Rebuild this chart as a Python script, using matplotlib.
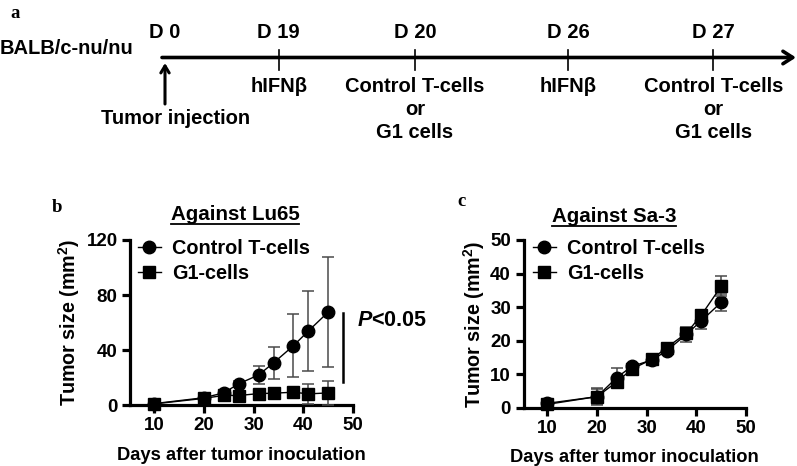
import matplotlib
matplotlib.use("Agg")
import matplotlib.pyplot as plt
from matplotlib.lines import Line2D

# ---------------- data ----------------
days = [10, 20, 24, 27, 31, 34, 38, 41, 45]

lu65_control = [1.2, 5.5, 9.0, 15.6, 22.0, 30.8, 43.3, 54.0, 67.8]
lu65_control_err = [0.5, 1.0, 1.5, 2.0, 6.5, 11.5, 23.0, 29.0, 40.0]
lu65_g1 = [1.0, 5.0, 7.2, 7.1, 8.5, 8.8, 9.5, 8.3, 9.0]
lu65_g1_err = [0.5, 1.0, 1.0, 1.2, 2.0, 3.8, 3.0, 7.0, 9.0]

sa3_control = [1.3, 3.3, 9.0, 12.3, 14.2, 16.9, 21.9, 25.9, 31.4]
sa3_control_err = [0.4, 2.5, 2.8, 0.8, 1.0, 0.8, 2.2, 2.3, 2.5]
sa3_g1 = [1.0, 3.3, 7.7, 11.5, 14.4, 17.9, 22.2, 27.6, 36.2]
sa3_g1_err = [0.4, 2.2, 1.0, 1.0, 1.0, 1.0, 1.0, 1.2, 3.0]

series_names = ["Control T-cells", "G1-cells"]
panel_titles = ["Against Lu65", "Against Sa-3"]

timeline_days = ["D 0", "D 19", "D 20", "D 26", "D 27"]
timeline_events = ["Tumor injection", "hIFN\u03b2", "Control T-cells\nor\nG1 cells",
                   "hIFN\u03b2", "Control T-cells\nor\nG1 cells"]

# ---------------- figure ----------------
W, H = 797, 466
fig = plt.figure(figsize=(W / 100, H / 100), dpi=100)
FONT = "Liberation Sans"
plt.rcParams["font.family"] = FONT
plt.rcParams["font.weight"] = "bold"
plt.rcParams["mathtext.fontset"] = "custom"
plt.rcParams["mathtext.bf"] = "Liberation Sans:bold"
plt.rcParams["mathtext.bfit"] = "Liberation Sans:bold:italic"

# overlay axes in pixel coordinates for panel a and annotations
ov = fig.add_axes([0, 0, 1, 1])
ov.set_xlim(0, W)
ov.set_ylim(H, 0)
ov.axis("off")
ov.set_zorder(10)
ov.patch.set_alpha(0)

TFS = 14.5  # timeline font size

# panel labels
for lab, (x, y) in zip("abc", [(10, 14), (52, 207), (457, 202)]):
    ov.text(x, y, lab, fontsize=13.5, fontweight="bold", family="Liberation Serif",
            ha="left", va="center")

# timeline
line_y = 57.5
ov.annotate("", xy=(796, line_y), xytext=(162, line_y),
            arrowprops=dict(arrowstyle="->,head_length=0.7,head_width=0.45",
                            lw=2.6, color="black", shrinkA=0, shrinkB=0))
ov.text(0, 48, "BALB/c-nu/nu", fontsize=TFS, fontweight="bold", ha="left", va="center")
tick_x = [165, 278.7, 415, 568.3, 713.3]
for i, (d, ev, x) in enumerate(zip(timeline_days, timeline_events, tick_x)):
    ov.text(x, 33, d, fontsize=TFS, fontweight="bold", ha="center", va="center")
    if i == 0:
        ov.annotate("", xy=(x, 63), xytext=(x, 104),
                    arrowprops=dict(arrowstyle="->,head_length=0.5,head_width=0.3",
                                    lw=2.2, color="black", shrinkA=0, shrinkB=0))
        ov.text(176, 118, ev, fontsize=TFS, fontweight="bold", ha="center", va="center")
    else:
        ov.plot([x, x], [50, 70], color="black", lw=1.2)
        for k, line in enumerate(ev.split("\n")):
            ov.text(x, 86 + 23.5 * k, line, fontsize=TFS, fontweight="bold",
                    ha="center", va="center")


def style_axes(ax):
    for s in ["top", "right"]:
        ax.spines[s].set_visible(False)
    for s in ["left", "bottom"]:
        ax.spines[s].set_linewidth(2.3)
    ax.tick_params(width=2.3, length=6, labelsize=13.5, direction="out")
    ax.tick_params(axis="y", pad=3)
    ax.tick_params(axis="x", pad=2.5)
    for lab in ax.get_xticklabels() + ax.get_yticklabels():
        lab.set_fontweight("bold")


def draw_panel(ax, ctrl, ctrl_err, g1, g1_err, ylim, yticks, leg_xy, ylpad):
    ax.errorbar(days, ctrl, yerr=ctrl_err, color="black", lw=1.0, marker="o",
                markersize=9, ecolor="#4a4a4a", elinewidth=1.1, capsize=4,
                capthick=1.1, zorder=3, clip_on=False)
    ax.errorbar(days, g1, yerr=g1_err, color="black", lw=1.0, marker="s",
                markersize=8.5, ecolor="#4a4a4a", elinewidth=1.1, capsize=4,
                capthick=1.1, zorder=4, clip_on=False)
    ax.set_xlim(5.2, 50)
    ax.set_ylim(*ylim)
    ax.set_xticks([10, 20, 30, 40, 50])
    ax.set_yticks(yticks)
    ax.set_xlabel("Days after tumor inoculation", fontsize=13.2, fontweight="bold",
                  labelpad=9)
    ax.set_ylabel("Tumor size (mm$^\\mathbf{2}$)", fontsize=14.2, fontweight="bold",
                  labelpad=ylpad)
    style_axes(ax)
    handles = [Line2D([], [], color="black", lw=1.0, marker="o", markersize=9),
               Line2D([], [], color="black", lw=1.0, marker="s", markersize=8.5)]
    ax.legend(handles, series_names, loc="upper left", bbox_to_anchor=leg_xy,
              bbox_transform=ov.transData, borderpad=0, borderaxespad=0,
              frameon=False, handlelength=1.15, handletextpad=0.55,
              labelspacing=0.3, prop=dict(family=FONT, weight="bold", size=14.3))


axb = fig.add_axes([130 / W, (H - 405.3) / H, (353.3 - 130) / W, 165.3 / H])
draw_panel(axb, lu65_control, lu65_control_err, lu65_g1, lu65_g1_err, (0, 120),
           [0, 40, 80, 120], (138, 239), 3)
axc = fig.add_axes([523.5 / W, (H - 407.7) / H, (746 - 523.5) / W, 167.7 / H])
draw_panel(axc, sa3_control, sa3_control_err, sa3_g1, sa3_g1_err, (0, 50),
           [0, 10, 20, 30, 40, 50], (533, 239), 2.5)

# significance bar
ov.plot([343.3, 343.3], [312.7, 381.7], color="black", lw=1.8)
ov.text(357, 321, "$\\mathbfit{P}$<0.05", fontsize=15.5, fontweight="bold",
        ha="left", va="center")

# underlined titles
fig.canvas.draw()
renderer = fig.canvas.get_renderer()
for title, cx, cy in zip(panel_titles, [235, 614], [214, 216]):
    t = ov.text(cx, cy, title, fontsize=14.8, fontweight="bold", ha="center", va="center")
    bb = t.get_window_extent(renderer)
    inv = ov.transData.inverted()
    (x0, _), (x1, _) = inv.transform([(bb.x0, bb.y0), (bb.x1, bb.y0)])
    ov.plot([x0, x1], [cy + 9.5, cy + 9.5], color="black", lw=1.3)

fig.savefig("out.png", dpi=100)
